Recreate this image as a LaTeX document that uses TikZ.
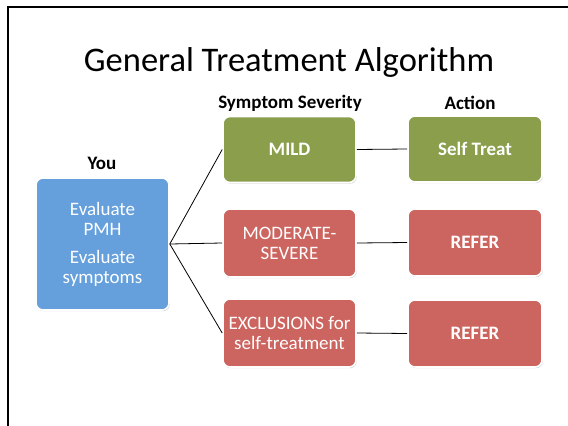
\documentclass[tikz,border=0pt]{standalone}
\usepackage{fontspec}
\setmainfont{Carlito}
\usetikzlibrary{shadows}
\definecolor{boxgreen}{HTML}{8A9E4C}
\definecolor{boxred}{HTML}{CC655F}
\definecolor{boxblue}{HTML}{65A0DC}
\tikzset{
  card/.style={rectangle, rounded corners=7pt, draw=white, line width=1.6pt,
    text=white, align=center, inner sep=2pt,
    drop shadow={opacity=0.35, shadow xshift=0.8pt, shadow yshift=-1.2pt},
    font=\fontsize{19}{20}\selectfont},
  colbox/.style={card, minimum width=133pt, minimum height=66pt},
  boldbox/.style={colbox, font=\fontsize{19}{20}\selectfont\bfseries},
  head/.style={font=\fontsize{19}{22}\selectfont\bfseries, inner sep=0pt},
  link/.style={draw=black, line width=0.8pt}
}
\begin{document}
\begin{tikzpicture}[x=1pt,y=-1pt]
\useasboundingbox (0,0) rectangle (568,426);
\fill[white] (0,0) rectangle (568,426);
% frame
\draw[line width=2pt] (7.5,426) -- (7.5,6.5) -- (568,6.5);
% title
\node[font=\fontsize{34.5}{40}\selectfont, inner sep=0pt] (title) at (289,62) {General Treatment Algorithm};
% headings
\node[head] (hsev) at (290,103) {Symptom Severity};
\node[head] (hact) at (470,103) {Action};
\node[head] (hyou) at (102,163) {You};
% boxes
\node[card, fill=boxblue, minimum width=133pt, minimum height=132pt] (you) at (102.5,244)
  {Evaluate\\PMH\\[8pt]Evaluate\\symptoms};
\node[boldbox, fill=boxgreen] (mild) at (289.5,149.5) {MILD};
\node[colbox, fill=boxred, minimum height=68pt] (mod) at (289.5,243) {MODERATE-\\SEVERE};
\node[colbox, fill=boxred, minimum height=68pt] (exc) at (289.5,333) {EXCLUSIONS for\\self-treatment};
\node[boldbox, fill=boxgreen, minimum width=134pt] (self) at (475,149) {Self Treat};
\node[boldbox, fill=boxred, minimum width=134pt, minimum height=67pt] (ref1) at (475,242.5) {REFER};
\node[boldbox, fill=boxred, minimum width=134pt, minimum height=67pt] (ref2) at (475,333.5) {REFER};
% connectors
\draw[link] (you.east) -- (mild.west);
\draw[link] (you.east) -- (mod.west);
\draw[link] (you.east) -- (exc.west);
\draw[link] (mild.east) -- (self.west);
\draw[link] (mod.east) -- (ref1.west);
\draw[link] (exc.east) -- (ref2.west);
\end{tikzpicture}
\end{document}
